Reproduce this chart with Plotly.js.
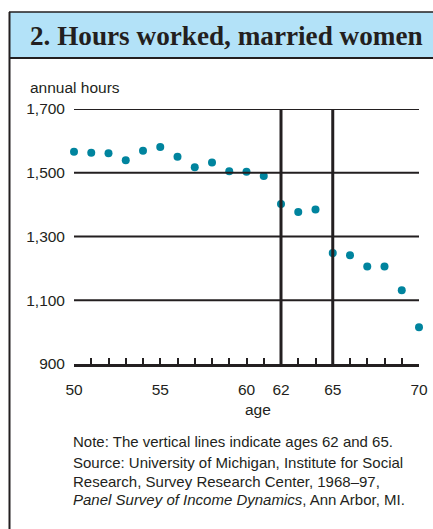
<!DOCTYPE html>
<html>
<head>
<meta charset="utf-8">
<script src="https://cdn.plot.ly/plotly-3.0.1.min.js"></script>
<style>
html,body{margin:0;padding:0;background:#fff;}
#chart{width:433px;height:529px;}
</style>
</head>
<body>
<div id="chart"></div>
<script>
// Data
var ages = [50,51,52,53,54,55,56,57,58,59,60,61,62,63,64,65,66,67,68,69,70];
var hours = [1566,1563,1561,1539,1569,1581,1550,1517,1532,1505,1503,1490,1402,1377,1385,1248,1241,1206,1206,1131,1015];
var xTickVals = [50,55,60,62,65,70];
var xTickText = ['50','55','60','62','65','70'];
var yTickVals = [900,1100,1300,1500,1700];
var yTickText = ['900','1,100','1,300','1,500','1,700'];
var refAges = [62,65];
var minorTicks = ages.slice();

var W=433,H=529, L=74, R=419, T=109, B=364;
function px(x){return (x-L)/(R-L);}
function py(y){return (B-y)/(B-T);}
var ink='#231f20';
var sans='"Liberation Sans", Arial, Helvetica, sans-serif';

var shapes = [];
// header box
shapes.push({type:'rect',xref:'paper',yref:'paper',x0:px(9),x1:px(440),y0:py(58),y1:py(12),fillcolor:'#b3e2f8',line:{width:0},layer:'below'});
shapes.push({type:'line',xref:'paper',yref:'paper',x0:px(9),x1:px(440),y0:py(12),y1:py(12),line:{color:ink,width:1.5}});
shapes.push({type:'line',xref:'paper',yref:'paper',x0:px(9),x1:px(440),y0:py(58),y1:py(58),line:{color:ink,width:2}});
shapes.push({type:'line',xref:'paper',yref:'paper',x0:px(9.5),x1:px(9.5),y0:py(12),y1:py(540),line:{color:ink,width:2}});
// horizontal gridlines
yTickVals.slice(1).forEach(function(v){
  shapes.push({type:'line',xref:'x',yref:'y',x0:ages[0],x1:ages[ages.length-1],y0:v,y1:v,line:{color:ink,width:2}});
});
// reference vertical lines
refAges.forEach(function(a){
  shapes.push({type:'line',xref:'x',yref:'y',x0:a,x1:a,y0:yTickVals[0],y1:yTickVals[yTickVals.length-1],line:{color:ink,width:3}});
});

var trace = {x:ages,y:hours,type:'scatter',mode:'markers',marker:{color:'#00849e',size:8},cliponaxis:false,hoverinfo:'x+y'};

var noteFont = {family:sans,size:15,color:ink};
var layout = {
  width:W,height:H,
  margin:{l:L,r:W-R,t:T,b:H-B,pad:0},
  paper_bgcolor:'#fff',plot_bgcolor:'rgba(0,0,0,0)',
  showlegend:false,
  font:{family:sans,color:ink,size:15},
  xaxis:{range:[50,70],tickmode:'array',tickvals:xTickVals,ticktext:xTickText,
    ticks:'inside',ticklen:6,tickwidth:2,tickcolor:ink,
    minor:{tickmode:'array',tickvals:minorTicks,ticks:'inside',ticklen:6,tickwidth:2,tickcolor:ink},
    showline:true,linecolor:ink,linewidth:3,showgrid:false,zeroline:false,
    tickfont:{family:sans,size:15.5,color:ink},ticklabelstandoff:9,fixedrange:true},
  yaxis:{range:[900,1700],tickmode:'array',tickvals:yTickVals,ticktext:yTickText,
    ticks:'',showline:false,showgrid:false,zeroline:false,
    tickfont:{family:sans,size:15.5,color:ink},ticklabelstandoff:8,fixedrange:true},
  shapes:shapes,
  annotations:[
    {xref:'paper',yref:'paper',x:px(28),y:py(36),xanchor:'left',yanchor:'middle',showarrow:false,
      text:'<b>2. Hours worked, married women</b>',font:{family:'"Liberation Serif", "Times New Roman", serif',size:27.2,color:ink}},
    {xref:'paper',yref:'paper',x:px(28),y:py(87),xanchor:'left',yanchor:'middle',showarrow:false,
      text:'annual hours',font:{family:sans,size:15.5,color:ink}},
    {xref:'x',yref:'paper',x:60.65,y:py(409),xanchor:'center',yanchor:'middle',showarrow:false,
      text:'age',font:{family:sans,size:15.5,color:ink}},
    {xref:'paper',yref:'paper',x:px(71),y:py(441),xanchor:'left',yanchor:'middle',showarrow:false,align:'left',
      text:'Note: The vertical lines indicate ages 62 and 65.',font:noteFont},
    {xref:'paper',yref:'paper',x:px(71),y:py(462),xanchor:'left',yanchor:'middle',showarrow:false,align:'left',
      text:'Source: University of Michigan, Institute for Social',font:noteFont},
    {xref:'paper',yref:'paper',x:px(71),y:py(481),xanchor:'left',yanchor:'middle',showarrow:false,align:'left',
      text:'Research, Survey Research Center, 1968\u201397,',font:noteFont},
    {xref:'paper',yref:'paper',x:px(71),y:py(500),xanchor:'left',yanchor:'middle',showarrow:false,align:'left',
      text:'<i>Panel Survey of Income Dynamics</i>, Ann Arbor, MI.',font:noteFont}
  ]
};
Plotly.newPlot('chart',[trace],layout,{displayModeBar:false,staticPlot:true});
</script>
</body>
</html>
